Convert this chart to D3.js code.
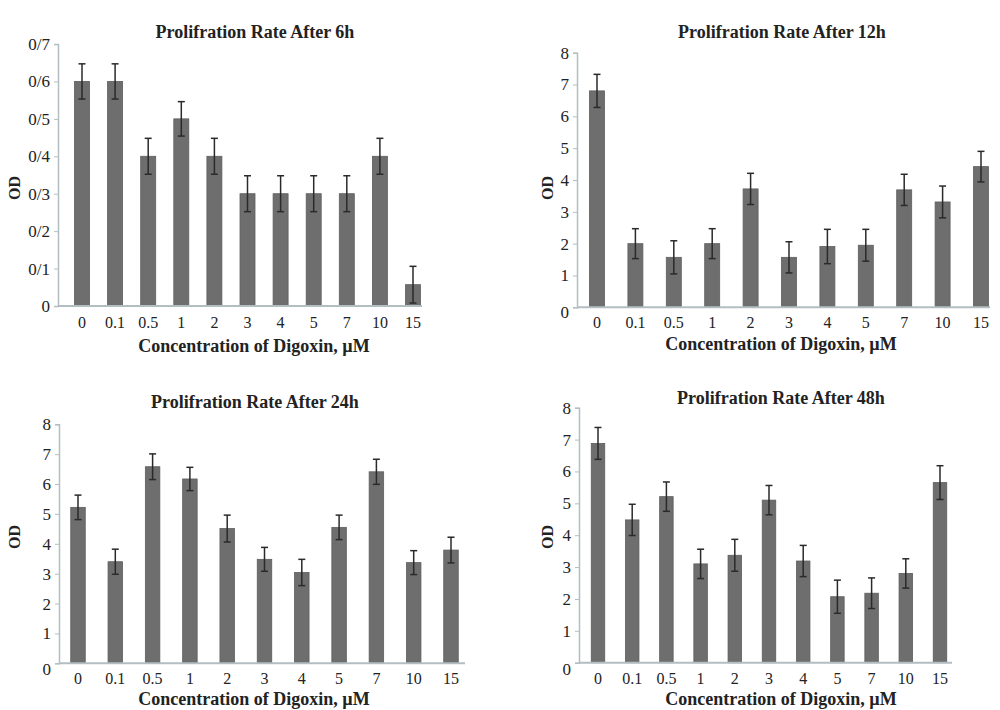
<!DOCTYPE html>
<html>
<head>
<meta charset="utf-8">
<script src="https://cdn.jsdelivr.net/npm/d3@7"></script>
<style>
  body { margin: 0; background: #fff; }
  svg text { font-family: "Liberation Serif", "DejaVu Serif", serif; fill: #222; }
</style>
</head>
<body>
<div id="chart"></div>
<script>
// concentrations of digoxin (uM)
var categories = ["0", "0.1", "0.5", "1", "2", "3", "4", "5", "7", "10", "15"];

// OD values, with error bar half-lengths
var od6h = [0.6, 0.6, 0.4, 0.5, 0.4, 0.3, 0.3, 0.3, 0.3, 0.4, 0.057];
var err6h = [0.047, 0.047, 0.048, 0.046, 0.048, 0.048, 0.048, 0.048, 0.048, 0.048, 0.049];

var od12h = [6.8, 2.0, 1.57, 2.0, 3.72, 1.57, 1.91, 1.95, 3.69, 3.31, 4.42];
var err12h = [0.52, 0.47, 0.52, 0.47, 0.49, 0.49, 0.54, 0.5, 0.49, 0.5, 0.48];

var od24h = [5.22, 3.4, 6.58, 6.17, 4.51, 3.48, 3.04, 4.55, 6.41, 3.37, 3.79];
var err24h = [0.41, 0.42, 0.43, 0.39, 0.45, 0.4, 0.44, 0.41, 0.42, 0.4, 0.43];

var od48h = [6.88, 4.48, 5.21, 3.1, 3.37, 5.1, 3.19, 2.07, 2.18, 2.8, 5.65];
var err48h = [0.5, 0.49, 0.46, 0.46, 0.5, 0.46, 0.49, 0.52, 0.48, 0.46, 0.53];

// y ticks; the 6h panel uses "/" as decimal sign
var ticks6h = [0, 0.1, 0.2, 0.3, 0.4, 0.5, 0.6, 0.7];
var tickLabels6h = ["0", "0/1", "0/2", "0/3", "0/4", "0/5", "0/6", "0/7"];
var ticks8 = [0, 1, 2, 3, 4, 5, 6, 7, 8];

var titles = ["Prolifration Rate After 6h", "Prolifration Rate After 12h",
              "Prolifration Rate After 24h", "Prolifration Rate After 48h"];
var xTitle = "Concentration of Digoxin, \u00b5M";
var yTitle = "OD";

var width = 1000;
var height = 710;

var svg = d3.select("#chart").append("svg")
    .attr("width", width)
    .attr("height", height);

// layout of each panel (pixel positions)
var panels = [
  { title: titles[0], values: od6h, errs: err6h, max: 0.7, ticks: ticks6h, labels: tickLabels6h,
    ax0: 58, ax1: 422, top: 44, base: 306, c0: 82, c1: 413, bw: 15,
    titleX: 255, titleY: 38, xLabY: 322, xTitleX: 254, xTitleY: 352, odX: 14, odY: 188, zeroDy: 0 },
  { title: titles[1], values: od12h, errs: err12h, max: 8, ticks: ticks8, labels: null,
    ax0: 577, ax1: 990, top: 52.7, base: 307.3, c0: 597, c1: 981, bw: 15,
    titleX: 782, titleY: 38, xLabY: 322, xTitleX: 781, xTitleY: 350, odX: 547, odY: 188, zeroDy: 5 },
  { title: titles[2], values: od24h, errs: err24h, max: 8, ticks: ticks8, labels: null,
    ax0: 59, ax1: 465, top: 424.3, base: 663.3, c0: 78, c1: 451, bw: 14.5,
    titleX: 255, titleY: 408, xLabY: 678, xTitleX: 254, xTitleY: 705, odX: 14, odY: 537, zeroDy: 6 },
  { title: titles[3], values: od48h, errs: err48h, max: 8, ticks: ticks8, labels: null,
    ax0: 579, ax1: 952, top: 407.7, base: 662.7, c0: 598, c1: 940, bw: 13.5,
    titleX: 781, titleY: 404, xLabY: 678, xTitleX: 781, xTitleY: 705, odX: 547, odY: 537, zeroDy: 6 }
];

panels.forEach(function (p) {
  var data = categories.map(function (c, i) {
    return { cat: c, v: p.values[i], e: p.errs[i] };
  });

  var x = d3.scalePoint().domain(categories).range([p.c0, p.c1]);
  var y = d3.scaleLinear().domain([0, p.max]).range([p.base, p.top]);

  var g = svg.append("g");

  // y axis
  var yAxis = g.append("g")
      .attr("transform", "translate(" + p.ax0 + ",0)")
      .call(d3.axisLeft(y)
          .tickValues(p.ticks)
          .tickSize(4)
          .tickPadding(4)
          .tickFormat(function (d, i) { return p.labels ? p.labels[i] : String(d); }));
  yAxis.select(".domain").attr("stroke", "#b3bec2").attr("stroke-width", 1.5);
  yAxis.selectAll(".tick line").attr("stroke", "#b3bec2");
  yAxis.selectAll(".tick text")
      .attr("fill", "#333")
      .style("font-size", "17px")
      .attr("dy", function (d) { return d === 0 ? (0.32 * 17 + p.zeroDy) + "px" : "0.32em"; });

  // bars
  g.selectAll("rect.bar")
      .data(data)
      .enter().append("rect")
      .attr("class", "bar")
      .attr("x", function (d) { return x(d.cat) - p.bw / 2; })
      .attr("y", function (d) { return y(d.v); })
      .attr("width", p.bw)
      .attr("height", function (d) { return y(0) - y(d.v); })
      .attr("fill", "#6e6e6e")
      .attr("stroke", "#5e5e5e")
      .attr("stroke-width", 0.8);

  // error bars
  g.selectAll("line.stem")
      .data(data)
      .enter().append("line")
      .attr("class", "stem")
      .attr("x1", function (d) { return x(d.cat); })
      .attr("x2", function (d) { return x(d.cat); })
      .attr("y1", function (d) { return y(d.v + d.e); })
      .attr("y2", function (d) { return y(Math.max(0, d.v - d.e)); })
      .attr("stroke", "#2a2a2a")
      .attr("stroke-width", 1.5);
  g.selectAll("line.capTop")
      .data(data)
      .enter().append("line")
      .attr("class", "capTop")
      .attr("x1", function (d) { return x(d.cat) - 3.5; })
      .attr("x2", function (d) { return x(d.cat) + 3.5; })
      .attr("y1", function (d) { return y(d.v + d.e); })
      .attr("y2", function (d) { return y(d.v + d.e); })
      .attr("stroke", "#2a2a2a")
      .attr("stroke-width", 1.5);
  g.selectAll("line.capBottom")
      .data(data)
      .enter().append("line")
      .attr("class", "capBottom")
      .attr("x1", function (d) { return x(d.cat) - 3.5; })
      .attr("x2", function (d) { return x(d.cat) + 3.5; })
      .attr("y1", function (d) { return y(Math.max(0, d.v - d.e)); })
      .attr("y2", function (d) { return y(Math.max(0, d.v - d.e)); })
      .attr("stroke", "#2a2a2a")
      .attr("stroke-width", 1.5);

  // x axis line
  g.append("line")
      .attr("x1", p.ax0)
      .attr("x2", p.ax1)
      .attr("y1", y(0))
      .attr("y2", y(0))
      .attr("stroke", "#b3bec2")
      .attr("stroke-width", 2);

  // x tick labels
  g.selectAll("text.xlab")
      .data(categories)
      .enter().append("text")
      .attr("class", "xlab")
      .attr("x", function (d) { return x(d); })
      .attr("y", p.xLabY)
      .attr("dy", "0.35em")
      .attr("text-anchor", "middle")
      .attr("fill", "#333")
      .style("font-size", "16px")
      .text(String);

  // titles
  g.append("text")
      .attr("x", p.titleX)
      .attr("y", p.titleY)
      .attr("text-anchor", "middle")
      .style("font-size", "18px")
      .style("font-weight", "bold")
      .text(p.title);

  g.append("text")
      .attr("x", p.xTitleX)
      .attr("y", p.xTitleY)
      .attr("text-anchor", "middle")
      .style("font-size", "18px")
      .style("font-weight", "bold")
      .text(xTitle);

  g.append("text")
      .attr("transform", "translate(" + p.odX + "," + p.odY + ") rotate(-90)")
      .attr("dy", "0.35em")
      .attr("text-anchor", "middle")
      .style("font-size", "16px")
      .style("font-weight", "bold")
      .text(yTitle);
});
</script>
</body>
</html>
